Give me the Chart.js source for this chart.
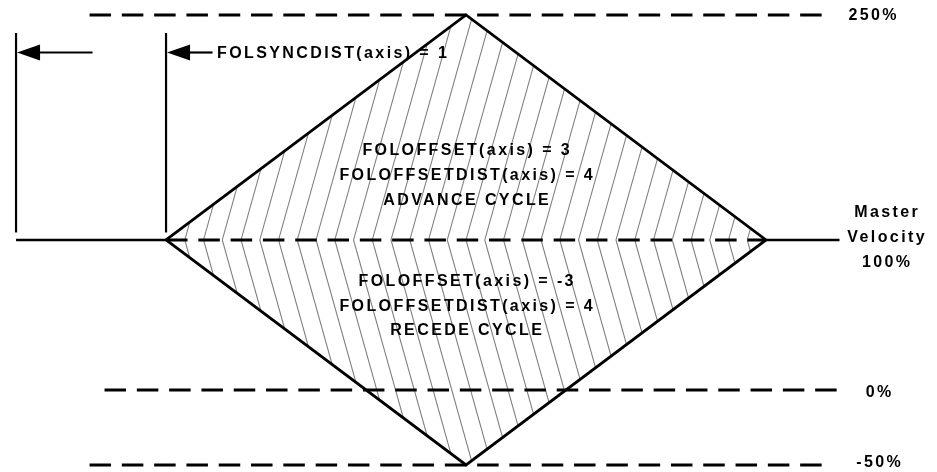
<!DOCTYPE html>
<html>
<head>
<meta charset="utf-8">
<script src="https://cdn.jsdelivr.net/npm/chart.js@4.4.1/dist/chart.umd.min.js"></script>
<style>
  html, body { margin: 0; padding: 0; background: #fff; }
  #wrap { width: 937px; height: 472px; position: relative; }
</style>
</head>
<body>
<div id="wrap"><canvas id="chart"></canvas></div>
<script>
// velocity levels (%) with dashed guides, and where each guide starts / stops (distance units)
const guideLevels = [250, 0, -50];
const guideFrom = [0.49, 0.59, 0.49];
const guideTo = [5.40, 5.49, 5.40];

// master velocity line
const masterLevel = 100;
const masterFrom = 0;
const masterTo = 5.49;

// offset profile: starts after sync distance 1, lasts 4 units
const profileX = [1, 3, 5, 3, 1];
const profileY = [100, 250, 100, -50, 100];

// sync distance markers
const syncX = [0, 1];
const syncBottom = 105;
const syncTop = 238;
const arrowLevel = 225;
const arrowTail = [0.51, 1.31];

// text
const labelText = [
  "FOLSYNCDIST(axis) = 1",
  "FOLOFFSET(axis) = 3", "FOLOFFSETDIST(axis) = 4", "ADVANCE CYCLE",
  "FOLOFFSET(axis) = -3", "FOLOFFSETDIST(axis) = 4", "RECEDE CYCLE",
  "250%", "Master", "Velocity", "100%", "0%", "-50%"
];
const labelX = [1.34, 3, 3, 3, 3, 3, 3, 5.71, 5.8, 5.8, 5.8, 5.75, 5.75];
const labelY = [224.5, 159.3, 142.7, 126, 72, 55.5, 39.5, 249.5, 118.3, 101.7, 85, -2, -48.7];
const labelAlign = ["left", "center", "center", "center", "center", "center", "center",
  "center", "center", "center", "center", "center", "center"];

// hatch inside the profile
const hatchPitch = 0.125;
const hatchLean = 0.28;

const FONT = 'bold 16px "Liberation Sans", Arial, sans-serif';
const SPACING = 2.4;
const DASH = [21.5, 10.8];

function seg(x1, y1, x2, y2) { return [{x: x1, y: y1}, {x: x2, y: y2}]; }

const datasets = [];
guideLevels.forEach((lv, i) => {
  datasets.push({data: seg(guideFrom[i], lv, guideTo[i], lv), borderDash: DASH, borderWidth: 3});
});
datasets.push({data: seg(masterFrom, masterLevel, profileX[0], masterLevel), borderWidth: 2.5});
datasets.push({data: seg(profileX[2], masterLevel, masterTo, masterLevel), borderWidth: 2.5});
datasets.push({data: seg(profileX[0], masterLevel, profileX[2], masterLevel), borderDash: DASH, borderWidth: 3});
datasets.push({data: profileX.map((x, i) => ({x, y: profileY[i]})), borderWidth: 2.8});
syncX.forEach((x, i) => {
  datasets.push({data: seg(x, syncBottom, x, syncTop), borderWidth: 2.2});
  datasets.push({data: seg(arrowTail[i], arrowLevel, x + 0.1, arrowLevel), borderWidth: 2.2});
});
datasets.forEach(d => Object.assign(d, {
  showLine: true, pointRadius: 0, borderColor: "#000", fill: false, tension: 0, borderCapStyle: "butt"
}));

const diagram = {
  id: "diagram",
  beforeDatasetsDraw(chart) {
    const {ctx, scales: {x, y}, height} = chart;
    ctx.save();
    ctx.beginPath();
    profileX.forEach((v, i) => {
      const px = x.getPixelForValue(v), py = y.getPixelForValue(profileY[i]);
      i ? ctx.lineTo(px, py) : ctx.moveTo(px, py);
    });
    ctx.closePath();
    ctx.clip();
    ctx.strokeStyle = "#808080";
    ctx.lineWidth = 1.1;
    const mid = y.getPixelForValue(masterLevel);
    const centre = profileX[1];
    for (let k = -20; k <= 20; k++) {
      const px = x.getPixelForValue(centre + k * hatchPitch);
      ctx.beginPath();
      ctx.moveTo(px + hatchLean * mid, 0);
      ctx.lineTo(px, mid);
      ctx.lineTo(px + hatchLean * (height - mid), height);
      ctx.stroke();
    }
    ctx.restore();
  },
  afterDatasetsDraw(chart) {
    const {ctx, scales: {x, y}} = chart;
    ctx.save();
    ctx.fillStyle = "#000";
    syncX.forEach(v => {
      const px = x.getPixelForValue(v) + 1, py = y.getPixelForValue(arrowLevel);
      ctx.beginPath();
      ctx.moveTo(px, py);
      ctx.lineTo(px + 23, py - 8);
      ctx.lineTo(px + 23, py + 8);
      ctx.closePath();
      ctx.fill();
    });
    ctx.font = FONT;
    ctx.letterSpacing = SPACING + "px";
    ctx.textBaseline = "middle";
    labelText.forEach((t, i) => {
      let px = x.getPixelForValue(labelX[i]);
      const py = y.getPixelForValue(labelY[i]);
      ctx.textAlign = labelAlign[i];
      if (labelAlign[i] === "center") px += SPACING / 2;
      ctx.fillText(t, px, py);
    });
    ctx.restore();
  }
};

new Chart(document.getElementById("chart"), {
  type: "scatter",
  data: {datasets},
  options: {
    responsive: true,
    maintainAspectRatio: false,
    animation: false,
    events: [],
    layout: {padding: 0},
    plugins: {legend: {display: false}, tooltip: {enabled: false}},
    scales: {
      x: {type: "linear", display: false, min: -0.107, max: 6.14},
      y: {type: "linear", display: false, min: -54.7, max: 260}
    }
  },
  plugins: [diagram]
});
</script>
</body>
</html>
